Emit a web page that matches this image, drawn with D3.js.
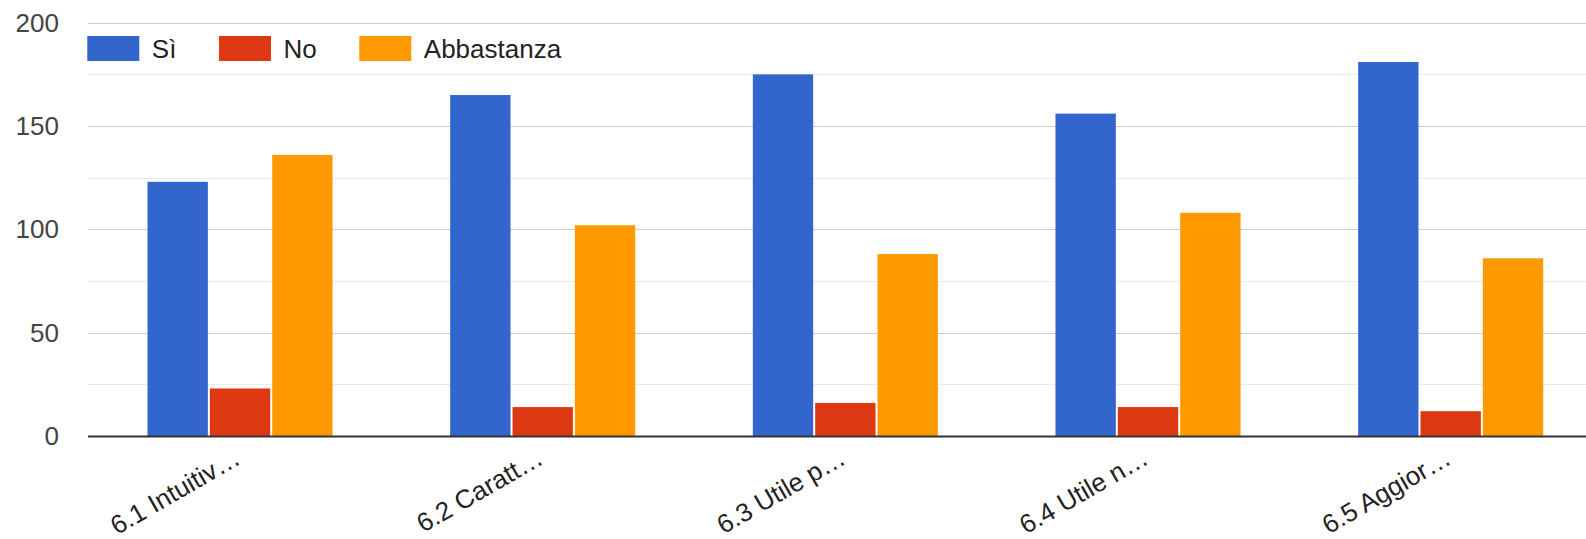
<!DOCTYPE html>
<html>
<head>
<meta charset="utf-8">
<script src="https://cdn.jsdelivr.net/npm/d3@7"></script>
<style>
  html, body { margin: 0; padding: 0; background: #fff; overflow: hidden; }
  text { font-family: Arial, "Liberation Sans", sans-serif; }
</style>
</head>
<body>
<svg id="chart" width="1586" height="539"></svg>
<script>
const categories = ["6.1 Intuitiv…", "6.2 Caratt…", "6.3 Utile p…", "6.4 Utile n…", "6.5 Aggior…"];
const seriesNames = ["Sì", "No", "Abbastanza"];
const siValues = [123, 165, 175, 156, 181];
const noValues = [23, 14, 16, 14, 12];
const abbastanzaValues = [136, 102, 88, 108, 86];
const yTicks = [0, 50, 100, 150, 200];
const yMinorTicks = [25, 75, 125, 175];
const colors = ["#3366cc", "#dc3912", "#ff9900"];

const seriesValues = [siValues, noValues, abbastanzaValues];
const rows = categories.map((c, i) => ({
  cat: c,
  vals: seriesNames.map((s, j) => ({ key: s, value: seriesValues[j][i] }))
}));

const svg = d3.select("#chart");
const plotLeft = 88.7, plotRight = 1602, plotTop = 22.7, plotBottom = 436;

const x0 = d3.scaleBand().domain(categories).range([plotLeft, plotRight])
  .paddingInner(0.382).paddingOuter(0.191);
const x1 = d3.scaleBand().domain(seriesNames).range([0, x0.bandwidth()]);
const y = d3.scaleLinear().domain([0, 200]).range([plotBottom, plotTop]);

// gridlines
svg.append("g").selectAll("line").data(yMinorTicks).join("line")
  .attr("x1", 88).attr("x2", 1586)
  .attr("y1", d => Math.round(y(d)) + 0.5).attr("y2", d => Math.round(y(d)) + 0.5)
  .attr("stroke", "#ebebeb").attr("stroke-width", 1);
svg.append("g").selectAll("line").data(yTicks.filter(d => d > 0)).join("line")
  .attr("x1", 88).attr("x2", 1586)
  .attr("y1", d => Math.round(y(d)) + 0.5).attr("y2", d => Math.round(y(d)) + 0.5)
  .attr("stroke", "#cccccc").attr("stroke-width", 1);

// y tick labels
svg.append("g").selectAll("text").data(yTicks).join("text")
  .attr("x", 59).attr("y", d => y(d))
  .attr("text-anchor", "end").attr("dominant-baseline", "central")
  .attr("font-size", 26).attr("fill", "#444")
  .text(d => d);

// bars
const groups = svg.append("g").selectAll("g").data(rows).join("g")
  .attr("transform", d => `translate(${x0(d.cat)},0)`);
groups.selectAll("rect").data(d => d.vals).join("rect")
  .attr("x", d => x1(d.key) + 1)
  .attr("width", x1.bandwidth() - 2)
  .attr("y", d => y(d.value))
  .attr("height", d => y(0) - y(d.value))
  .attr("fill", (d, i) => colors[i]);

// baseline
svg.append("line")
  .attr("x1", 88).attr("x2", 1586)
  .attr("y1", y(0) + 0.5).attr("y2", y(0) + 0.5)
  .attr("stroke", "#333").attr("stroke-width", 2);

// x labels
svg.append("g").selectAll("text").data(categories).join("text")
  .attr("transform", d => `translate(${x0(d) + x0.bandwidth() / 2 + 2},463) rotate(-30)`)
  .attr("text-anchor", "end")
  .attr("font-size", 26).attr("fill", "#222")
  .text(d => d);

// legend
const legendX = [87.3, 219, 359.3];
const legend = svg.append("g").selectAll("g").data(seriesNames).join("g")
  .attr("transform", (d, i) => `translate(${legendX[i]},36)`);
legend.append("rect").attr("width", 52).attr("height", 25)
  .attr("fill", (d, i) => colors[i]);
legend.append("text").attr("x", 64.5).attr("y", 12.5)
  .attr("dominant-baseline", "central")
  .attr("font-size", 26).attr("fill", "#222")
  .text(d => d);
</script>
</body>
</html>
